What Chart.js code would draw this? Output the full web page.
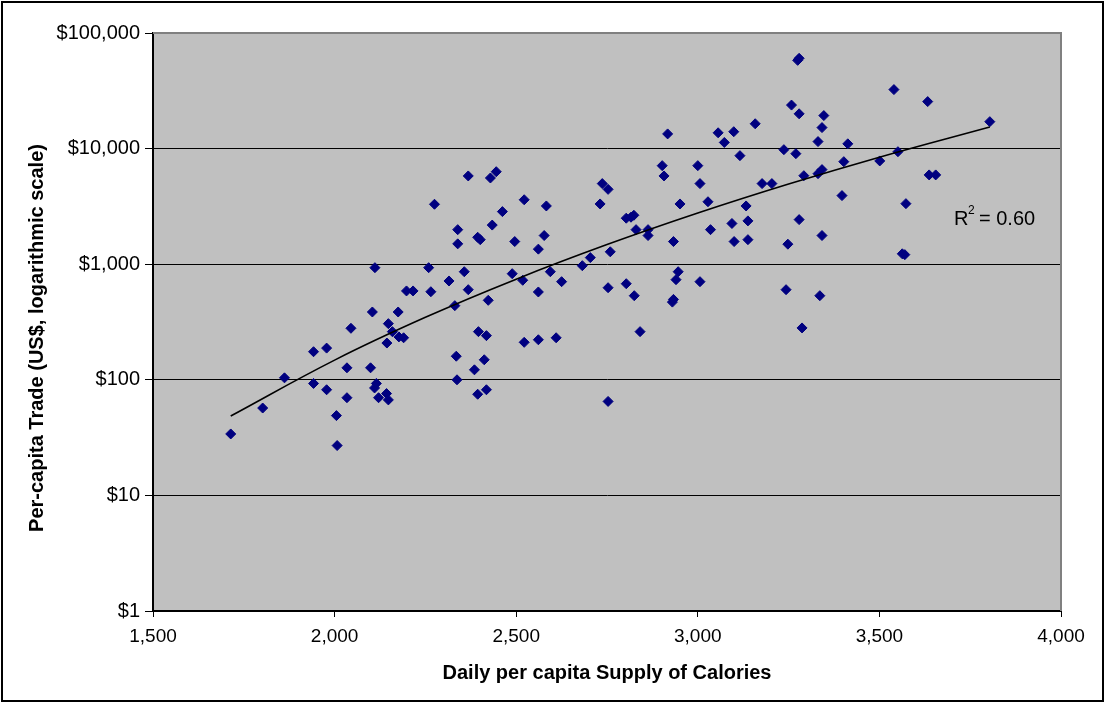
<!DOCTYPE html>
<html lang="en">
<head>
<meta charset="UTF-8">
<title>Per-capita Trade vs Daily Calorie Supply</title>
<script src="https://cdn.jsdelivr.net/npm/chart.js@4.4.1/dist/chart.umd.min.js"></script>
<style>
  html, body { margin: 0; padding: 0; background: #fff; }
  #wrap { width: 1105px; height: 702px; }
</style>
</head>
<body>
<div id="wrap"><canvas id="chart" width="1105" height="702"></canvas></div>
<script>
// one entry per country: daily per capita calorie supply and per-capita trade (US$)
const calories = [
  1714, 1802, 1862, 1942, 1978, 1942, 1978, 2005, 2007, 2034, 2034, 2045, 2099, 2104, 2111, 2115,
  2110, 2121, 2143, 2148, 2148, 2159, 2144, 2175, 2177, 2190, 2198, 2216, 2259, 2265, 2275, 2315,
  2331, 2335, 2337, 2339, 2339, 2368, 2429, 2445, 2522, 2462, 2583, 2434, 2394, 2401, 2496, 2577,
  2561, 2357, 2368, 2423, 2489, 2518, 2561, 2594, 2625, 2682, 2704, 2759, 2830, 2863, 2863, 2933,
  3035, 2731, 2737, 2753, 2902, 2907, 3000, 3006, 2951, 3028, 3133, 2803, 2816, 2824, 3094, 3138,
  2917, 3056, 3099, 3073, 3158, 3116, 3100, 3138, 2946, 2940, 3006, 2753, 2803, 2825, 2933, 2930,
  2396, 2418, 2522, 2561, 2610, 2841, 2412, 2385, 2394, 2418, 2753, 3279, 3275, 3258, 3279, 3347,
  3342, 3540, 3633, 3804, 3237, 3270, 3331, 3413, 3177, 3204, 3292, 3331, 3342, 3402, 3501, 3551,
  3637, 3655, 3397, 3573, 3279, 3248, 3342, 3563, 3570, 3243, 3336, 3287
];
const trade = [
  34, 57, 104, 175, 188, 93, 82, 49, 27, 127, 70, 279, 127, 386, 933, 93,
  85, 70, 76, 67, 306, 261, 208, 386, 235, 231, 587, 587, 933, 578, 3300, 716,
  438, 160, 100, 1990, 1500, 5800, 5570, 6310, 3610, 2850, 3190, 2180, 1710, 1630, 1570, 1770,
  1350, 861, 602, 487, 828, 726, 575, 861, 706, 971, 1140, 1280, 1990, 1990, 1770, 1570,
  1990, 3320, 4980, 4440, 7120, 5800, 7120, 4980, 3320, 3470, 3190, 2500, 2550, 2650, 2250, 2370,
  13400, 13700, 14000, 11300, 16400, 8690, 1570, 1630, 861, 735, 706, 626, 678, 534, 496, 470,
  261, 241, 211, 222, 231, 261, 149, 122, 75, 82, 65, 60400, 58000, 23800, 20000, 19300,
  15200, 32400, 25500, 17100, 9790, 9040, 11500, 11000, 4980, 4980, 5830, 6070, 6580, 7710, 7820, 9400,
  5920, 5920, 3920, 3340, 2430, 1490, 1770, 1230, 1210, 602, 534, 281
];

// trend line (power fit)
const trendCalories = [1714, 2000, 2250, 2500, 2750, 3000, 3250, 3500, 3804];
const trendTrade = [48.6, 148, 347, 742, 1477, 2770, 4936, 8430, 15380];
const rSquared = '0.60';

const yTicks = [1, 10, 100, 1000, 10000, 100000];
const xMin = 1500, xMax = 4000, xStep = 500;

const FONT = '"Liberation Sans", Arial, sans-serif';
const plotFill = '#c0c0c0';

const frame = {
  id: 'frame',
  beforeDraw(chart) {
    const {ctx, chartArea: a} = chart;
    ctx.save();
    ctx.fillStyle = '#fff';
    ctx.fillRect(0, 0, chart.width, chart.height);
    ctx.fillStyle = plotFill;
    ctx.fillRect(a.left, a.top, a.right - a.left, a.bottom - a.top);
    ctx.restore();
  },
  afterDraw(chart) {
    const {ctx, chartArea: a} = chart;
    ctx.save();
    // grey top/right edge of the plot
    ctx.strokeStyle = '#808080';
    ctx.lineWidth = 2;
    ctx.beginPath();
    ctx.moveTo(a.left, a.top);
    ctx.lineTo(a.right, a.top);
    ctx.lineTo(a.right, a.bottom);
    ctx.stroke();
    // outer frame
    ctx.strokeStyle = '#000';
    ctx.lineWidth = 2;
    ctx.strokeRect(2, 2, chart.width - 4, chart.height - 3);

    // y axis title
    ctx.fillStyle = '#000';
    ctx.font = 'bold 20px ' + FONT;
    ctx.textAlign = 'center';
    ctx.textBaseline = 'middle';
    ctx.translate(37, 338);
    ctx.rotate(-Math.PI / 2);
    ctx.fillText('Per-capita Trade (US$, logarithmic scale)', 0, 0);
    ctx.restore();

    // R squared label
    ctx.save();
    ctx.fillStyle = '#000';
    ctx.textBaseline = 'alphabetic';
    ctx.textAlign = 'left';
    ctx.font = '20px ' + FONT;
    ctx.fillText('R', 954, 225);
    ctx.font = '12px ' + FONT;
    ctx.fillText('2', 968, 214);
    ctx.font = '20px ' + FONT;
    ctx.fillText('= ' + rSquared, 979, 225);
    ctx.restore();
  }
};

new Chart(document.getElementById('chart'), {
  type: 'scatter',
  data: {
    datasets: [
      {
        type: 'line',
        data: trendCalories.map((x, i) => ({x, y: trendTrade[i]})),
        borderColor: '#000',
        borderWidth: 1.6,
        pointRadius: 0,
        tension: 0.4,
        fill: false
      },
      {
        data: calories.map((x, i) => ({x, y: trade[i]})),
        pointStyle: 'rectRot',
        pointRadius: 5,
        pointBorderWidth: 1,
        backgroundColor: '#000080',
        borderColor: '#000080'
      }
    ]
  },
  options: {
    responsive: false,
    animation: false,
    events: [],
    layout: { padding: { top: 33, right: 44, left: 0, bottom: 0 } },
    plugins: { legend: { display: false }, tooltip: { enabled: false } },
    scales: {
      x: {
        type: 'linear',
        min: xMin,
        max: xMax,
        afterFit: s => { s.height = 91; },
        ticks: {
          stepSize: xStep,
          color: '#000',
          font: { family: FONT, size: 19 },
          padding: 8,
          callback: v => v.toLocaleString('en-US')
        },
        grid: { drawOnChartArea: false, tickColor: '#000', tickLength: 6 },
        border: { color: '#000', width: 2 },
        title: {
          display: true,
          text: 'Daily per capita Supply of Calories',
          color: '#000',
          font: { family: FONT, size: 20, weight: 'bold' },
          padding: { top: 0, bottom: 17 }
        }
      },
      y: {
        type: 'logarithmic',
        min: 1,
        max: 100000,
        afterFit: s => { s.width = 153; },
        afterBuildTicks: s => { s.ticks = yTicks.map(v => ({value: v})); },
        ticks: {
          autoSkip: false,
          color: '#000',
          font: { family: FONT, size: 20 },
          padding: 5,
          callback: v => '$' + Number(v).toLocaleString('en-US')
        },
        grid: {
          color: c => (c.tick && c.tick.value === 100000) ? 'rgba(0,0,0,0)' : '#000',
          tickColor: '#000',
          tickLength: 8,
          lineWidth: 1
        },
        border: { color: '#000', width: 2 }
      }
    }
  },
  plugins: [frame]
});
</script>
</body>
</html>
